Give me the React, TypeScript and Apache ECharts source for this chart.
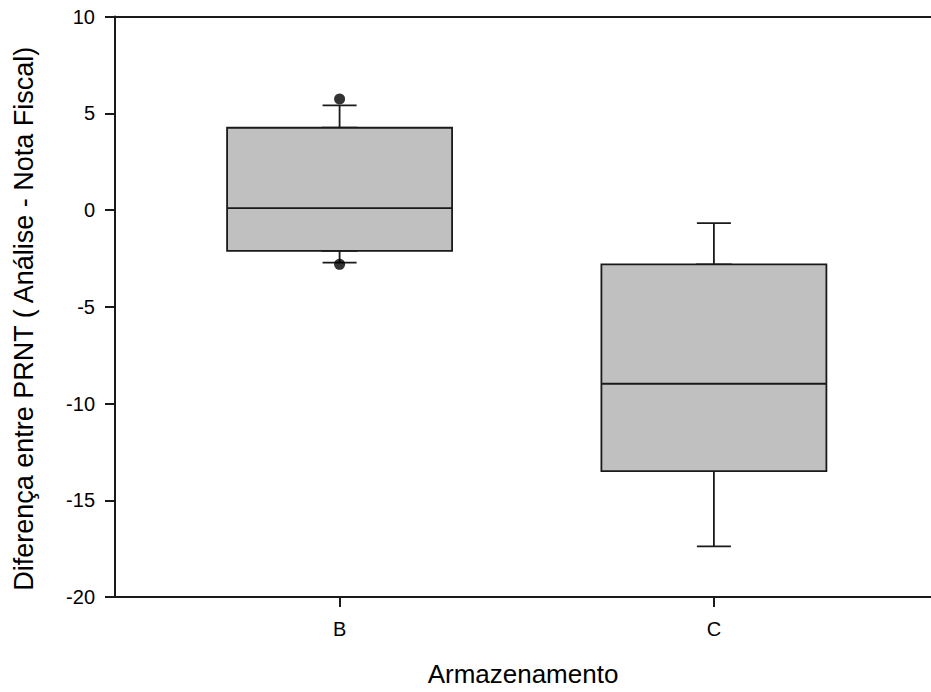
import React, { useEffect, useRef } from "react";
import * as echarts from "echarts";

const categories = ["B", "C"];
const categoryPositions = [1, 2];
const whiskerLow = [-2.72, -17.38];
const q1 = [-2.11, -13.49];
const median = [0.1, -8.98];
const q3 = [4.25, -2.81];
const whiskerHigh = [5.41, -0.68];
const outliers: [number, number][] = [
  [1, 5.74],
  [1, -2.81],
];
const yTicks = { min: -20, max: 10, interval: 5 };

export default function App() {
  const ref = useRef<HTMLDivElement>(null);
  useEffect(() => {
    if (!ref.current) return;
    const chart = echarts.init(ref.current, null, { renderer: "svg" });
    const font = "Liberation Sans, Arial, sans-serif";
    const lineStyle = { color: "#1a1a1a", width: 2 };
    const whiskerData = categoryPositions.map((x, i) => [
      x,
      whiskerLow[i],
      q1[i],
      median[i],
      q3[i],
      whiskerHigh[i],
    ]);
    const boxData = categoryPositions.map((x, i) => [
      x,
      q1[i],
      q1[i],
      median[i],
      q3[i],
      q3[i],
    ]);
    const boxStyle = { color: "#c0c0c0", borderColor: "#1a1a1a", borderWidth: 1.8 };
    chart.setOption({
      animation: false,
      grid: { left: 115, right: 0, top: 16.5, bottom: 92 },
      xAxis: [
        {
          type: "value",
          min: 0.4,
          max: 2.58,
          position: "bottom",
          axisLine: { show: true, onZero: false, lineStyle },
          axisTick: {
            show: true,
            length: 10,
            customValues: categoryPositions,
            lineStyle,
          },
          axisLabel: {
            customValues: categoryPositions,
            formatter: (v: number) => categories[categoryPositions.indexOf(v)] ?? "",
            fontFamily: font,
            fontSize: 20,
            color: "#000",
            margin: 22,
          },
          splitLine: { show: false },
          name: "Armazenamento",
          nameLocation: "middle",
          nameGap: 64,
          nameTextStyle: { fontFamily: font, fontSize: 26, color: "#000" },
        },
        {
          type: "value",
          min: 0.4,
          max: 2.58,
          position: "top",
          axisLine: { show: true, onZero: false, lineStyle },
          axisTick: { show: false },
          axisLabel: { show: false },
          splitLine: { show: false },
        },
      ],
      yAxis: {
        type: "value",
        min: yTicks.min,
        max: yTicks.max,
        interval: yTicks.interval,
        axisLine: { show: true, onZero: false, lineStyle },
        axisTick: { show: true, length: 10, lineStyle },
        axisLabel: {
          fontFamily: font,
          fontSize: 20,
          color: "#000",
          margin: 20,
        },
        splitLine: { show: false },
        name: "Diferença entre PRNT ( Análise - Nota Fiscal)",
        nameLocation: "middle",
        nameGap: 78,
        nameTextStyle: {
          fontFamily: font,
          fontSize: 27,
          color: "#000",
          padding: [0, 24, 0, 0],
        },
      },
      series: [
        {
          type: "boxplot",
          xAxisIndex: 1,
          z: 1,
          boxWidth: [34, 34],
          data: whiskerData,
          itemStyle: boxStyle,
        },
        {
          type: "boxplot",
          xAxisIndex: 0,
          z: 2,
          boxWidth: [225, 225],
          data: boxData,
          itemStyle: boxStyle,
        },
        {
          type: "scatter",
          xAxisIndex: 0,
          z: 3,
          symbol: "circle",
          symbolSize: 11,
          data: outliers,
          itemStyle: { color: "#000" },
        },
      ],
    });
    return () => chart.dispose();
  }, []);
  return (
    <div
      ref={ref}
      style={{ position: "fixed", left: 0, top: 0, width: 931, height: 692, background: "#fff" }}
    />
  );
}
